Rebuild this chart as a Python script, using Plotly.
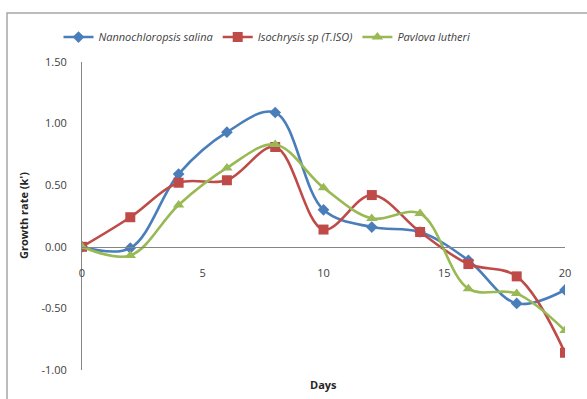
import plotly.graph_objects as go

days = [0, 2, 4, 6, 8, 10, 12, 14, 16, 18, 20]
nanno = [0.00, -0.01, 0.59, 0.93, 1.09, 0.30, 0.16, 0.12, -0.11, -0.46, -0.35]
iso = [0.00, 0.24, 0.52, 0.54, 0.81, 0.14, 0.42, 0.12, -0.14, -0.24, -0.86]
pav = [0.00, -0.07, 0.34, 0.64, 0.83, 0.48, 0.23, 0.27, -0.34, -0.38, -0.68]
names = ["Nannochloropsis salina", "Isochrysis sp (T.ISO)", "Pavlova lutheri"]
x_ticks = [0, 5, 10, 15, 20]
y_ticks = [-1.0, -0.5, 0.0, 0.5, 1.0, 1.5]
y_labels = ["-1.00", "-0.50", "0.00", "0.50", "1.00", "1.50"]

series = [
    (names[0], nanno, "#4A7EBB", "diamond", 9),
    (names[1], iso, "#BE4B48", "square", 10),
    (names[2], pav, "#98B954", "triangle-up", 10),
]

fig = go.Figure()
for name, vals, col, sym, sz in series:
    fig.add_trace(go.Scatter(
        x=days, y=vals, name="<i>" + name + "</i>", mode="lines+markers",
        line=dict(color=col, width=2.6, shape="spline", smoothing=1.0),
        marker=dict(symbol=sym, size=sz, color=col),
    ))

font = "Open Sans, Lato, DejaVu Sans, sans-serif"
fig.update_layout(
    width=587, height=399,
    margin=dict(l=82, r=22, t=62, b=29),
    paper_bgcolor="white", plot_bgcolor="white",
    font=dict(family=font, size=10, color="#404040"),
    legend=dict(orientation="h", x=0.383, xanchor="center", y=1.081, yanchor="middle",
                font=dict(size=11, color="#404040"), itemwidth=30, tracegroupgap=0,
                bgcolor="rgba(0,0,0,0)"),
    xaxis=dict(range=[0, 20], tickvals=x_ticks, showgrid=False, zeroline=False,
               showline=True, linecolor="#868686", linewidth=1,
               anchor="free", position=0.4, ticks="", ticklabelstandoff=16,
               tickfont=dict(size=11, color="#404040")),
    yaxis=dict(range=[-1.0, 1.5], tickvals=y_ticks, ticktext=y_labels, showgrid=False,
               zeroline=False, showline=True, linecolor="#868686", linewidth=1,
               ticks="", ticklabelstandoff=12, tickfont=dict(size=11, color="#404040")),
    showlegend=True,
)

fig.add_annotation(text="<b>Days</b>", xref="paper", yref="paper", x=0.5, y=0,
                   xanchor="center", yanchor="top", yshift=-5, showarrow=False,
                   font=dict(size=11, color="#262626"))
fig.add_annotation(text="<b>Growth rate (k')</b>", xref="paper", yref="paper", x=0, y=0.5,
                   xanchor="center", yanchor="middle", xshift=-59, textangle=-90,
                   showarrow=False, font=dict(size=11, color="#262626"))

fig.add_shape(type="rect", xref="paper", yref="paper",
              x0=(7 - 82) / 483, x1=(620 - 82) / 483,
              y0=(370 - 420) / 308, y1=(370 - 13) / 308,
              line=dict(color="#A6A6A6", width=1.5), layer="below")

fig.write_html("out.html")
